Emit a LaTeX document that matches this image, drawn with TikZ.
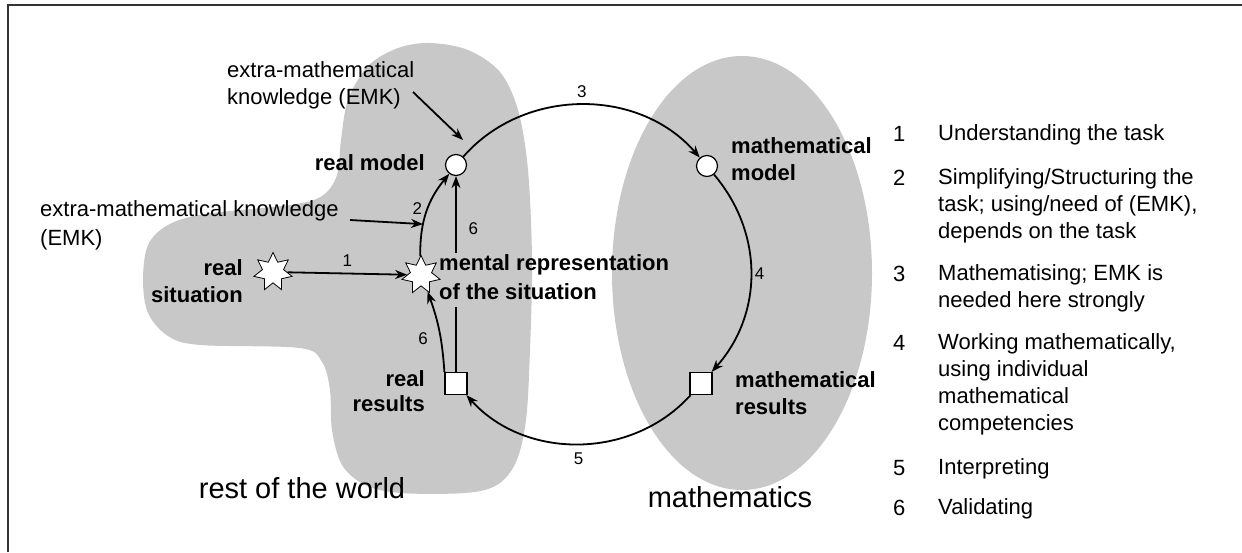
\documentclass[tikz,border=0pt]{standalone}
\usepackage{fontspec}
\setmainfont{Liberation Sans}
\usetikzlibrary{shapes.geometric,arrows.meta,calc}
\definecolor{blobgray}{RGB}{200,200,200}
\definecolor{framecol}{RGB}{50,50,50}
\begin{document}
\begin{tikzpicture}[x=1pt,y=-1pt,
  lbl/.style={inner sep=0pt,font=\fontsize{22}{27}\selectfont},
  blbl/.style={inner sep=0pt,font=\fontsize{22}{27}\selectfont\bfseries},
  num/.style={inner sep=0pt,font=\fontsize{17}{20}\selectfont},
  big/.style={inner sep=0pt,font=\fontsize{29}{34}\selectfont},
  arr/.style={line width=1.8pt,-{Stealth[length=12pt,width=9pt]}},
  circ/.style={circle,draw,fill=white,line width=1.2pt,minimum size=21pt,inner sep=0pt},
  sq/.style={rectangle,draw,fill=white,line width=1.2pt,minimum size=22pt,inner sep=0pt},
  st/.style={star,star points=7,star point ratio=1.8,draw,fill=white,line width=0.8pt,minimum size=39pt,inner sep=0pt}]
\useasboundingbox (0,0) rectangle (1242,552);
% frame
\draw[framecol,line width=2pt] (8,552) -- (8,5) -- (1242,5);
% regions
\fill[blobgray] plot[smooth cycle,tension=0.55] coordinates {
 (430,43) (468,50) (500,72) (518,110) (528,170) (532,260) (530,350) (526,420)
 (516,462) (497,485) (465,493) (400,493) (365,485) (342,465) (332,430) (330,390)
 (322,362) (300,348) (200,345) (168,336) (148,313) (143,280) (148,245) (168,225)
 (205,214) (290,205) (322,196) (337,175) (341,140) (348,100) (368,66) (398,48)};
\fill[blobgray] (742,273) ellipse [x radius=130pt, y radius=217pt];
% nodes
\node[circ] (rm) at (456,165) {};
\node[circ] (mm) at (707,166) {};
\node[sq] (mr) at (701,383.5) {};
\node[sq] (rr) at (456,383.5) {};
\node[st] (rs) at (273,272) {};
\node[st] (ms) at (421,275) {};
% labels
\node[lbl,anchor=north west,align=left] (emk1) at (227,61) {extra-mathematical\\knowledge (EMK)};
\node[lbl,anchor=north west,align=left,font=\fontsize{22}{29}\selectfont] (emk2) at (40,200) {extra-mathematical knowledge\\(EMK)};
\node[blbl,anchor=north east] (rml) at (425,154) {real model};
\node[blbl,anchor=north east,align=right] (rsl) at (243,259) {real\\situation};
\node[blbl,anchor=north west,align=left,font=\fontsize{22}{29}\selectfont\bfseries] (ment) at (439,254) {mental representation\\of the situation};
\node[blbl,anchor=north east,align=right,font=\fontsize{22}{25}\selectfont\bfseries] (rrl) at (425,370) {real\\results};
\node[blbl,anchor=north west,align=left] (mml) at (731,137) {mathematical\\model};
\node[blbl,anchor=north west,align=left] (mrl) at (735,371) {mathematical\\results};
\node[big] (row) at (302,488) {rest of the world};
\node[big] (mat) at (730,497) {mathematics};
% list
\node[lbl,anchor=north west] (n1) at (893,126) {1};
\node[lbl,anchor=north west,align=left] (t1) at (938,124) {Understanding the task};
\node[lbl,anchor=north west] (n2) at (893,170) {2};
\node[lbl,anchor=north west,align=left] (t2) at (938,168) {Simplifying/Structuring the\\task; using/need of (EMK),\\depends on the task};
\node[lbl,anchor=north west] (n3) at (893,266) {3};
\node[lbl,anchor=north west,align=left] (t3) at (938,264) {Mathematising; EMK is\\needed here strongly};
\node[lbl,anchor=north west] (n4) at (893,335) {4};
\node[lbl,anchor=north west,align=left] (t4) at (938,333) {Working mathematically,\\using individual\\mathematical\\competencies};
\node[lbl,anchor=north west] (n5) at (893,460) {5};
\node[lbl,anchor=north west,align=left] (t5) at (938,458) {Interpreting};
\node[lbl,anchor=north west] (n6) at (893,500) {6};
\node[lbl,anchor=north west,align=left] (t6) at (938,498) {Validating};
% coordinates
\coordinate (g1) at (456,253);
\coordinate (g2) at (456,307);
\coordinate (e1s) at (413,92);
\coordinate (e1e) at (463,140);
\coordinate (e2s) at (350,220);
% connectors
\draw[arr] (rs) -- node[num,above=6pt]{1} (ms);
\draw[arr] (ms) to[bend left=20] coordinate[pos=0.35] (a2) node[num,pos=0.55,left=5pt]{2} (rm);
\draw[arr] (rm) to[bend left=49] node[num,above=6pt]{3} (mm);
\draw[arr] (mm) to[bend left=41] node[num,right=3pt]{4} (mr);
\draw[arr] (mr) to[bend left=48] node[num,below=8pt]{5} (rr);
\draw[arr] (rr.north west) to[bend right=8] node[num,pos=0.4,left=12pt]{6} (ms);
\draw[line width=1.4pt] (rr) -- (g2);
\draw[arr,line width=1.4pt] (g1) -- node[num,pos=0.32,right=12pt]{6} (rm);
\draw[arr] (e1s) -- (e1e);
\draw[arr] (e2s) -- (a2);
\end{tikzpicture}
\end{document}
